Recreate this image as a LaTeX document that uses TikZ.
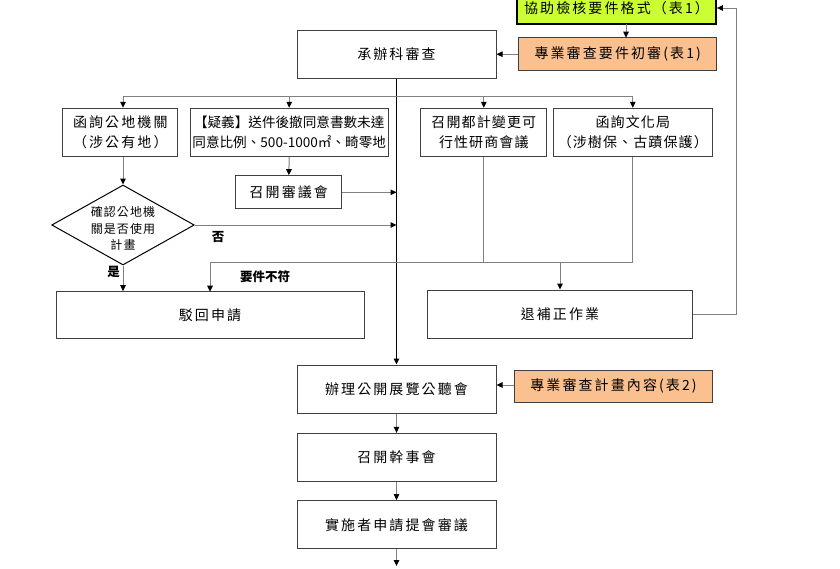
\documentclass[tikz,border=0pt]{standalone}
\usepackage{fontspec}
\usetikzlibrary{arrows.meta,shapes.geometric}
\newfontfamily\cjk{Noto Sans CJK TC}
\newfontfamily\cjksp[LetterSpace=15]{Noto Sans CJK TC}
\newfontfamily\cjkmid[LetterSpace=8]{Noto Sans CJK TC}
\newfontfamily\cjkdia[LetterSpace=9]{Noto Sans CJK TC}
\definecolor{linegray}{HTML}{808080}
\definecolor{boxgray}{HTML}{404040}
\definecolor{limefill}{HTML}{CCFF33}
\definecolor{orangefill}{HTML}{FAC08F}
\begin{document}
\begin{tikzpicture}[x=1pt,y=-1pt,
  box/.style={draw=boxgray, line width=1pt, fill=white, inner sep=0pt, align=center,
    font=\cjksp\fontsize{14}{20}\selectfont},
  greenbox/.style={box, draw=black, line width=1.8pt, fill=limefill},
  orangebox/.style={box, fill=orangefill},
  conn/.style={draw=linegray, line width=1pt},
  mainline/.style={draw=black, line width=1pt},
  arr/.style={conn, -{Triangle[length=6pt,width=5.5pt,color=black]}},
  mainarr/.style={mainline, -{Triangle[length=6pt,width=5.5pt,color=black]}},
  lbl/.style={inner sep=0pt, font=\cjk\bfseries\fontsize{12.5}{15}\selectfont}
]
\useasboundingbox (0,0) rectangle (840,568);

% top
\node[greenbox, minimum width=199pt, minimum height=31pt] (green) at (616.5,8.5) {協助檢核要件格式（表1）};
\node[orangebox, minimum width=198pt, minimum height=33pt] (or1) at (617.7,54.2) {專業審查要件初審(表1)};
\node[box, minimum width=199pt, minimum height=48pt] (cb) at (396.5,54.2) {承辦科審查};

% second row
\node[box, minimum width=114.7pt, minimum height=48.4pt] (gd) at (120.3,132.5) {函詢公地機關\\（涉公有地）};
\node[box, font=\cjk\fontsize{13.6}{20}\selectfont, minimum width=198.3pt, minimum height=48.4pt] (yy) at (289.2,132.5) {【疑義】送件後撤同意書數未達\\同意比例、500-1000㎡、畸零地};
\node[box, font=\cjkmid\fontsize{14}{20}\selectfont, minimum width=125.7pt, minimum height=48.4pt] (dj) at (483.8,132.5) {召開都計變更可\\行性研商會議};
\node[box, font=\cjkmid\fontsize{14}{20}\selectfont, minimum width=159pt, minimum height=48.4pt] (wh) at (632.8,132.5) {函詢文化局\\（涉樹保、古蹟保護）};
\node[box, minimum width=105.7pt, minimum height=33.3pt] (sy) at (288.8,192.3) {召開審議會};

% diamond
\node[draw=black, line width=1pt, diamond, minimum width=142.6pt, minimum height=80pt, inner sep=0pt, fill=white] (dia) at (123,225) {};
\node[inner sep=0pt, align=center, font=\cjkdia\fontsize{12}{16.5}\selectfont] (diat) at (123,228.5) {確認公地機\\關是否使用\\計畫};

% reject / correction
\node[box, minimum width=308pt, minimum height=47.3pt] (bh) at (210,315.3) {駁回申請};
\node[box, minimum width=264.6pt, minimum height=48.3pt] (tb) at (560,314.2) {退補正作業};

% lower chain
\node[box, minimum width=199pt, minimum height=48.3pt] (zl) at (396.5,389.2) {辦理公開展覽公聽會};
\node[orangebox, minimum width=198.4pt, minimum height=32.3pt] (or2) at (613.5,386.2) {專業審查計畫內容(表2)};
\node[box, minimum width=199pt, minimum height=47.7pt] (gs) at (396.5,457.2) {召開幹事會};
\node[box, minimum width=199pt, minimum height=48.3pt] (ss) at (396.5,524.8) {實施者申請提會審議};

% coordinates
\coordinate (mainx) at (396.5,0);
\coordinate (distL) at (123,96);
\coordinate (distR) at (632.8,96);
\coordinate (rejY) at (0,262);
\coordinate (fbR) at (736.5,314.2);
\coordinate (fbT) at (736.5,8);
\coordinate (endP) at (396.5,566);

% top connectors
\draw[arr] (626,24) -- (626,37.7);
\draw[arr] (or1.west) -- (cb.east);
\draw[conn] (tb.east) -- (fbR) -- (fbT);
\draw[arr] (fbT) -- (green.east |- fbT);

% main line
\draw[mainarr] (cb.south) -- (zl.north);

% distribution line
\draw[conn] (distL) -- (distR);
\draw[arr] (distL) -- (distL |- gd.north);
\draw[arr] (yy.north |- distL) -- (yy.north);
\draw[arr] (dj.north |- distL) -- (dj.north);
\draw[arr] (distR) -- (wh.north);

% left branch
\draw[arr] (distL |- gd.south) -- (dia.north);
\draw[arr] (yy.south) -- (sy.north);
\draw[arr] (sy.east) -- (sy.east -| mainx);
\draw[arr] (dia.east) -- (dia.east -| mainx);
\node[lbl] (no) at (218,237) {否};
\draw[arr] (dia.south) -- (dia.south |- bh.north);
\node[lbl] (yes) at (113.5,272) {是};

% rejection / correction collector
\draw[conn] (dj.south) -- (dj.south |- rejY);
\draw[conn] (wh.south) -- (wh.south |- rejY);
\draw[conn] (wh.south |- rejY) -- (210,262);
\draw[arr] (210,262) -- (210,291.7);
\draw[arr] (tb.north |- rejY) -- (tb.north);
\node[lbl] (bad) at (265,277) {要件不符};

% lower connectors
\draw[arr] (or2.west |- 0,385) -- (zl.east |- 0,385);
\draw[arr] (zl.south) -- (gs.north);
\draw[arr] (gs.south) -- (ss.north);
\draw[arr] (ss.south) -- (endP);
\end{tikzpicture}
\end{document}
